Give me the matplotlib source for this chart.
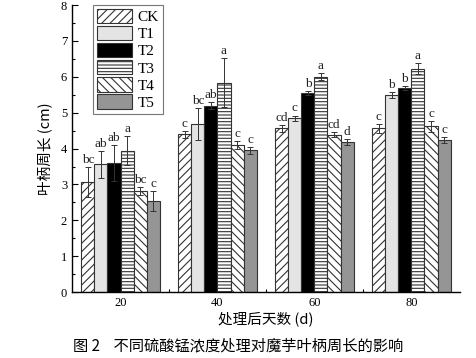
import numpy as np
import matplotlib
matplotlib.use("Agg")
import matplotlib.pyplot as plt
from matplotlib.ticker import MultipleLocator, FixedLocator

plt.rcParams['hatch.linewidth'] = 0.8

# 数据
days = [20, 40, 60, 80]
treatments = ['CK', 'T1', 'T2', 'T3', 'T4', 'T5']
means = {
    'CK': [3.07, 4.40, 4.56, 4.56],
    'T1': [3.56, 4.68, 4.84, 5.49],
    'T2': [3.60, 5.20, 5.55, 5.69],
    'T3': [3.94, 5.84, 6.00, 6.23],
    'T4': [2.82, 4.10, 4.39, 4.62],
    'T5': [2.54, 3.95, 4.19, 4.23],
}
errors = {
    'CK': [0.42, 0.10, 0.10, 0.12],
    'T1': [0.38, 0.45, 0.08, 0.08],
    'T2': [0.50, 0.10, 0.06, 0.06],
    'T3': [0.40, 0.68, 0.10, 0.15],
    'T4': [0.10, 0.10, 0.08, 0.15],
    'T5': [0.28, 0.10, 0.08, 0.08],
}
letters = {
    'CK': ['bc', 'c', 'cd', 'c'],
    'T1': ['ab', 'bc', 'c', 'b'],
    'T2': ['ab', 'ab', 'b', 'b'],
    'T3': ['a', 'a', 'a', 'a'],
    'T4': ['bc', 'c', 'cd', 'c'],
    'T5': ['c', 'c', 'd', 'c'],
}

styles = {
    'CK': dict(color='white', hatch='////'),
    'T1': dict(color='#e4e4e4', hatch=None),
    'T2': dict(color='black', hatch=None),
    'T3': dict(color='white', hatch='-----'),
    'T4': dict(color='white', hatch='\\\\\\\\'),
    'T5': dict(color='#959595', hatch=None),
}

serif = ['Liberation Serif', 'DejaVu Serif']
cjk = ['Noto Sans CJK SC', 'DejaVu Sans']

fig = plt.figure(figsize=(4.77, 3.58), dpi=100)
ax = fig.add_axes([0.151, 0.184, 0.813, 0.802])

width = 2.7
x = np.array(days, dtype=float)
for i, t in enumerate(treatments):
    pos = x + (i - 2.5) * width
    st = styles[t]
    ax.bar(pos, means[t], width, color=st['color'], hatch=st['hatch'],
           edgecolor='#333333', linewidth=0.8, label=t,
           yerr=errors[t], ecolor='#333333',
           error_kw=dict(elinewidth=0.7, capsize=2.5, capthick=0.7))
    for p, m, e, lab in zip(pos, means[t], errors[t], letters[t]):
        ax.text(p, m + e + 0.03, lab, ha='center', va='bottom',
                fontsize=9.5, family=serif, color='#222222')

ax.set_xlim(10, 90)
ax.set_ylim(0, 8)
ax.xaxis.set_major_locator(FixedLocator(days))
ax.xaxis.set_minor_locator(FixedLocator([30, 50, 70]))
ax.yaxis.set_major_locator(MultipleLocator(1))
ax.yaxis.set_minor_locator(MultipleLocator(0.5))
ax.tick_params(which='both', direction='in', width=0.8)
ax.tick_params(which='major', length=4)
ax.tick_params(which='minor', length=2.5)
ax.tick_params(axis='x', which='major', length=0)
for lab in ax.get_xticklabels() + ax.get_yticklabels():
    lab.set_family(serif)
    lab.set_fontsize(9)
ax.spines['top'].set_visible(False)
ax.spines['right'].set_visible(False)
for s in ['left', 'bottom']:
    ax.spines[s].set_linewidth(1.0)

ax.set_ylabel('叶柄周长 (cm)', family=cjk, fontsize=10.5, labelpad=6)
ax.set_xlabel('处理后天数 (d)', family=cjk, fontsize=10.5, labelpad=2)

leg = ax.legend(loc='upper left', bbox_to_anchor=(0.055, 1.0), frameon=True,
                fancybox=False, edgecolor='#555555', prop=dict(family=serif, size=11),
                handlelength=2.3, handleheight=1.05, labelspacing=0.12,
                handletextpad=0.35, borderpad=0.25, borderaxespad=0.0)
leg.get_frame().set_linewidth(0.8)

fig.text(0.5, 0.035, '图 2    不同硫酸锰浓度处理对魔芋叶柄周长的影响',
         ha='center', va='center', family=cjk, fontsize=11)

fig.savefig('out.png', dpi=100)
